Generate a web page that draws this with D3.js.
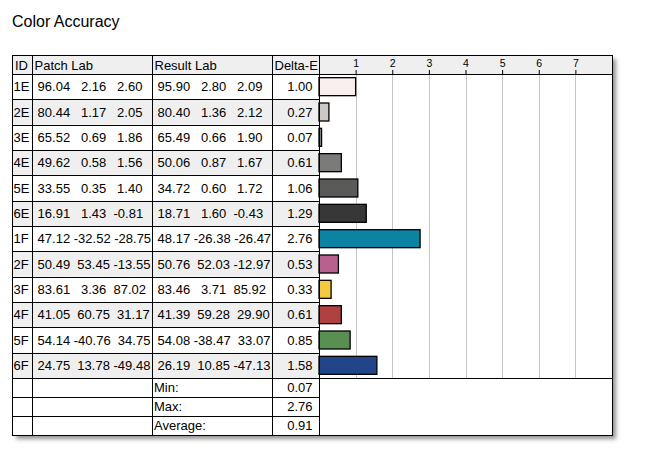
<!DOCTYPE html>
<html>
<head>
<meta charset="utf-8">
<script src="https://cdn.jsdelivr.net/npm/d3@7"></script>
<style>
  body { margin: 0; background: #fff; }
  text { font-family: "Liberation Sans", Arial, sans-serif; fill: #000; }
</style>
</head>
<body>
<svg id="chart" width="657" height="461"></svg>
<script>
// patch ids, Lab values of the target patch and the measured result, and the delta
const ids = ['1E', '2E', '3E', '4E', '5E', '6E', '1F', '2F', '3F', '4F', '5F', '6F'];
const patchL = [96.04, 80.44, 65.52, 49.62, 33.55, 16.91, 47.12, 50.49, 83.61, 41.05, 54.14, 24.75];
const patchA = [2.16, 1.17, 0.69, 0.58, 0.35, 1.43, -32.52, 53.45, 3.36, 60.75, -40.76, 13.78];
const patchB = [2.60, 2.05, 1.86, 1.56, 1.40, -0.81, -28.75, -13.55, 87.02, 31.17, 34.75, -49.48];
const resultL = [95.90, 80.40, 65.49, 50.06, 34.72, 18.71, 48.17, 50.76, 83.46, 41.39, 54.08, 26.19];
const resultA = [2.80, 1.36, 0.66, 0.87, 0.60, 1.60, -26.38, 52.03, 3.71, 59.28, -38.47, 10.85];
const resultB = [2.09, 2.12, 1.90, 1.67, 1.72, -0.43, -26.47, -12.97, 85.92, 29.90, 33.07, -47.13];
const deltaE = [1.00, 0.27, 0.07, 0.61, 1.06, 1.29, 2.76, 0.53, 0.33, 0.61, 0.85, 1.58];
const barColors = ['#f9efee', '#cbc8c6', '#8a8a8a', '#7b7b7a', '#5a5a59', '#373737',
                   '#0c83a0', '#b9618e', '#f3c942', '#b04141', '#598f53', '#22458a'];
const axisTicks = [1, 2, 3, 4, 5, 6, 7];
const headers = ['ID', 'Patch Lab', 'Result Lab', 'Delta-E'];
const summaryLabels = ['Min:', 'Max:', 'Average:'];

const svg = d3.select('#chart');

// table geometry
const tLeft = 12, tRight = 612, tTop = 55;
const headBottom = 74, dataBottom = 378, footRow = 19;
const tBottom = dataBottom + footRow * summaryLabels.length;
const cols = [12, 32, 152, 272, 319];   // column edges, chart starts at the last one
const grey = '#efefef';

// plain hyphen for negatives, like the original printout
const locale = d3.formatLocale({decimal: '.', thousands: ',', grouping: [3], currency: ['', ''], minus: '-'});
const fmt2 = locale.format('.2f');
const fmt6 = locale.format('6.2f');
// three values padded like a fixed-width printf, spaces kept as nbsp
const labText = (a, b, c) => [a, b, c].map(fmt6).join(' ').replace(/ /g, '\u00a0');

const x = d3.scaleLinear().domain([0, 8]).range([cols[4], tRight]);
const y = d3.scaleBand().domain(ids).range([headBottom, dataBottom]);

// shadowed white background
const defs = svg.append('defs');
defs.append('filter').attr('id', 'shadow')
    .attr('x', '-5%').attr('y', '-5%').attr('width', '115%').attr('height', '115%')
  .append('feDropShadow')
    .attr('dx', 4).attr('dy', 4).attr('stdDeviation', 2)
    .attr('flood-color', '#777').attr('flood-opacity', 0.8);

svg.append('rect')
    .attr('x', tLeft).attr('y', tTop)
    .attr('width', tRight - tLeft).attr('height', tBottom - tTop)
    .attr('fill', '#fff').attr('filter', 'url(#shadow)');

svg.append('text')
    .attr('x', 12).attr('y', 27)
    .style('font-size', '16px')
    .text('Color Accuracy');

// header band and alternating row shading
svg.append('rect')
    .attr('x', tLeft).attr('y', tTop)
    .attr('width', tRight - tLeft).attr('height', headBottom - tTop)
    .attr('fill', grey);

svg.append('g').selectAll('rect')
    .data(ids.filter((d, i) => i % 2 === 1))
    .join('rect')
    .attr('x', tLeft).attr('y', d => y(d))
    .attr('width', cols[4] - tLeft).attr('height', y.bandwidth())
    .attr('fill', grey);

// vertical grid lines in the chart area
svg.append('g').selectAll('line')
    .data(axisTicks)
    .join('line')
    .attr('x1', d => Math.round(x(d)) + 0.5).attr('x2', d => Math.round(x(d)) + 0.5)
    .attr('y1', headBottom).attr('y2', dataBottom)
    .attr('stroke', '#c4c4c4');

// bars
const barH = 18;
svg.append('g').selectAll('rect')
    .data(ids)
    .join('rect')
    .attr('x', x(0))
    .attr('y', d => y(d) + (y.bandwidth() - barH) / 2)
    .attr('width', (d, i) => x(deltaE[i]) - x(0))
    .attr('height', barH)
    .attr('fill', (d, i) => barColors[i])
    .attr('stroke', '#000')
    .attr('stroke-width', 1.3);

// axis in the header row
const axis = svg.append('g')
    .attr('transform', `translate(0,${headBottom})`)
    .call(d3.axisTop(x).tickValues(axisTicks).tickSize(4).tickPadding(3).tickFormat(d3.format('d')));
axis.select('.domain').remove();
axis.selectAll('line').attr('stroke', '#000');
axis.selectAll('text')
    .style('font-family', '"Liberation Sans", Arial, sans-serif')
    .style('font-size', '10.5px')
    .attr('fill', '#000');

// grid lines of the table
const lines = svg.append('g')
    .attr('stroke', '#000')
    .attr('stroke-width', 1)
    .attr('shape-rendering', 'crispEdges');

const rowEdges = ids.map(d => y(d)).concat(
    d3.range(summaryLabels.length).map(i => dataBottom + footRow * (i + 1)));
lines.selectAll('.row')
    .data(rowEdges)
    .join('line')
    .attr('class', 'row')
    .attr('x1', tLeft).attr('x2', cols[4])
    .attr('y1', d => Math.round(d) + 0.5).attr('y2', d => Math.round(d) + 0.5);

lines.selectAll('.full')
    .data([tTop, headBottom, dataBottom, tBottom])
    .join('line')
    .attr('class', 'full')
    .attr('x1', tLeft).attr('x2', tRight)
    .attr('y1', d => d + 0.5).attr('y2', d => d + 0.5);

lines.selectAll('.col')
    .data(cols.concat([tRight]))
    .join('line')
    .attr('class', 'col')
    .attr('x1', d => d + 0.5).attr('x2', d => d + 0.5)
    .attr('y1', tTop).attr('y2', tBottom + 1);

// header labels
svg.append('g').selectAll('text')
    .data(headers)
    .join('text')
    .attr('x', (d, i) => cols[i] + (i === 0 ? 3 : 2.5))
    .attr('y', headBottom - 4.5)
    .style('font-size', '13px')
    .text(d => d);

// data rows
const rows = svg.append('g').selectAll('g')
    .data(ids)
    .join('g')
    .attr('transform', d => `translate(0,${y(d) + y.bandwidth() / 2 + 4.5})`)
    .style('font-size', '13px');

rows.append('text').attr('x', 13.5).text(d => d);
rows.append('text').attr('x', cols[1] + 2)
    .text((d, i) => labText(patchL[i], patchA[i], patchB[i]));
rows.append('text').attr('x', cols[2] + 2)
    .text((d, i) => labText(resultL[i], resultA[i], resultB[i]));
rows.append('text').attr('x', cols[4] - 6.5).attr('text-anchor', 'end')
    .text((d, i) => fmt2(deltaE[i]));

// summary rows
const summaryValues = [d3.min(deltaE), d3.max(deltaE), d3.mean(deltaE)];
const foot = svg.append('g').selectAll('g')
    .data(summaryLabels)
    .join('g')
    .attr('transform', (d, i) => `translate(0,${dataBottom + footRow * i + footRow / 2 + 4.5})`)
    .style('font-size', '13px');

foot.append('text').attr('x', cols[2] + 2).text(d => d);
foot.append('text').attr('x', cols[4] - 6.5).attr('text-anchor', 'end')
    .text((d, i) => fmt2(summaryValues[i]));
</script>
</body>
</html>
